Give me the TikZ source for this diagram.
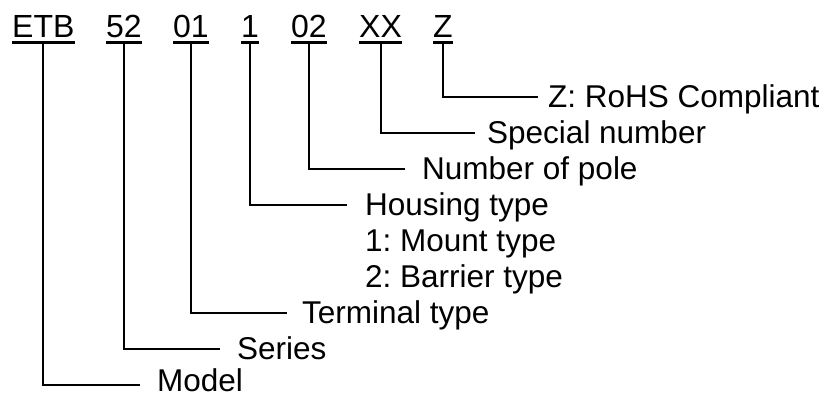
\documentclass[tikz,border=0pt]{standalone}
\usepackage{fontspec}
\setmainfont{Liberation Sans}
\frenchspacing
\begin{document}
\begin{tikzpicture}[x=1pt,y=-1pt,
  code/.style={font=\fontsize{32}{38}\selectfont, inner sep=0pt, anchor=base west},
  lbl/.style={font=\fontsize{31.5}{38}\selectfont, inner sep=0pt, anchor=base west},
  conn/.style={line width=2pt},
  uline/.style={line width=2.4pt}]
\useasboundingbox (0,0) rectangle (835,394);
% code parts
\node[code] (etb) at (12,37) {ETB};
\node[code] (ser) at (106,37) {52};
\node[code] (ter) at (173,37) {01};
\node[code] (hou) at (241,37) {1};
\node[code] (pol) at (291,37) {02};
\node[code] (spe) at (359,37) {XX};
\node[code] (roh) at (433,37) {Z};
\foreach \n in {etb,ser,ter,hou,pol,spe,roh}{
  \draw[uline] ([yshift=-5.5pt]\n.base west) -- ([yshift=-5.5pt]\n.base east);
  \coordinate (\n U) at ([yshift=-5.5pt]\n.base);
}
% labels
\node[lbl] (lroh) at (548,107) {Z: RoHS Compliant};
\node[lbl] (lspe) at (487,143) {Special number};
\node[lbl] (lpol) at (422,179) {Number of pole};
\node[lbl] (lhou) at (365,215) {Housing type};
\node[lbl] (lhou1) at (365,251) {1: Mount type};
\node[lbl] (lhou2) at (365,287) {2: Barrier type};
\node[lbl] (lter) at (302,323) {Terminal type};
\node[lbl] (lser) at (237,359) {Series};
\node[lbl] (letb) at (157,391) {Model};
% connectors
\draw[conn] (rohU) |- ([xshift=-10pt,yshift=10pt]lroh.base west);
\draw[conn] (speU) |- ([xshift=-12pt,yshift=10pt]lspe.base west);
\draw[conn] (polU) |- ([xshift=-17pt,yshift=10pt]lpol.base west);
\draw[conn] (houU) |- ([xshift=-18pt,yshift=10pt]lhou.base west);
\draw[conn] (terU) |- ([xshift=-15pt,yshift=10pt]lter.base west);
\draw[conn] (serU) |- ([xshift=-17pt,yshift=10pt]lser.base west);
\draw[conn] (etbU) |- ([xshift=-17pt,yshift=6pt]letb.base west);
\end{tikzpicture}
\end{document}
